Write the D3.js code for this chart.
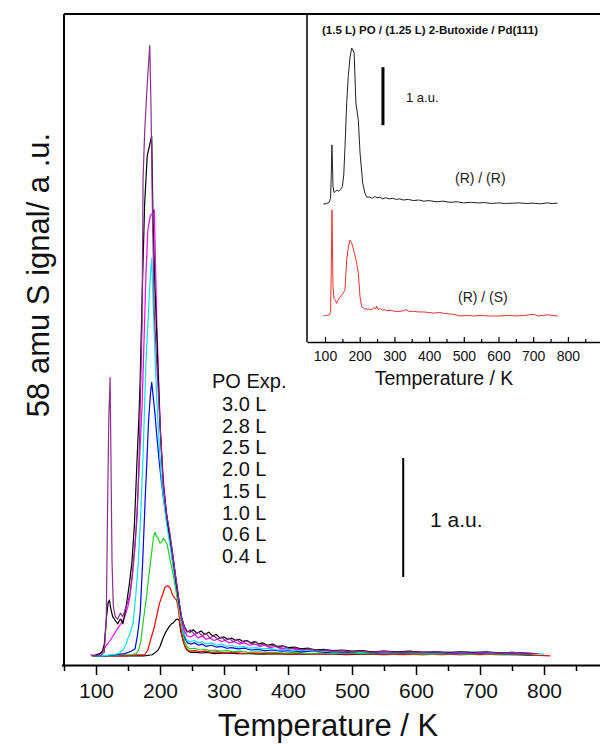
<!DOCTYPE html>
<html>
<head>
<meta charset="utf-8">
<script src="https://cdn.jsdelivr.net/npm/d3@7"></script>
<style>
  html, body { margin: 0; padding: 0; background: #fff; }
  svg { display: block; font-family: "Liberation Sans", Arial, Helvetica, sans-serif; }
</style>
</head>
<body>
<svg id="chart" width="600" height="745"></svg>
<script>
// ---------------- DATA ----------------
const exposureLabels = ["3.0 L", "2.8 L", "2.5 L", "2.0 L", "1.5 L", "1.0 L", "0.6 L", "0.4 L"];
const exposureColors = ["#8B2F8F", "#000000", "#FF00FF", "#00E5F0", "#0000FF", "#22CC22", "#FF0000", "#000000"];

const po30 = [[91,0.01],[100,0.0],[108,0.01],[113,0.03],[116,0.3],[118,1.2],[120,2.0],[122,2.34],[123.5,1.6],[125,0.8],[127,0.42],[130,0.33],[134,0.31],[138,0.36],[142,0.33],[146,0.4],[150,0.46],[153,0.52],[157,0.7],[161,0.95],[164,1.15],[167,1.6],[170,2.3],[172,2.8],[173.5,4.0],[176,4.4],[180,4.8],[184,5.13],[186,4.6],[188,3.8],[191,2.9],[195,2.45],[200,1.95],[205,1.45],[210,1.2],[215,1.05],[220,0.85],[225,0.65],[230,0.45],[234,0.32],[238,0.24],[242,0.2],[248,0.22],[254,0.18],[260,0.2],[266,0.17],[272,0.19],[278,0.15],[284,0.17],[290,0.14],[296,0.16],[302,0.13],[308,0.15],[314,0.12],[320,0.14],[326,0.11],[332,0.13],[338,0.12],[344,0.1],[350,0.12],[356,0.09],[362,0.1],[370,0.08],[378,0.09],[386,0.07],[394,0.08],[402,0.06],[412,0.065],[422,0.05],[432,0.06],[445,0.045],[458,0.05],[470,0.04],[485,0.045],[500,0.035],[515,0.04],[530,0.03],[550,0.04],[570,0.03],[590,0.035],[610,0.03],[630,0.035],[650,0.025],[670,0.03],[690,0.025],[710,0.03],[730,0.025],[750,0.03],[770,0.025],[790,0.02]];
const po28 = [[93,0.0],[100,0.01],[106,0.02],[110,0.04],[113,0.1],[116,0.3],[119,0.45],[121,0.47],[123,0.4],[126,0.33],[130,0.3],[134,0.27],[138,0.31],[140,0.3],[142,0.27],[145,0.35],[148,0.45],[152,0.6],[156,0.78],[160,1.1],[164,1.63],[167,2.0],[169,2.32],[172,3.0],[176,3.8],[180,4.2],[184,4.3],[187,4.37],[189,3.7],[192,3.1],[195,2.7],[200,1.95],[205,1.45],[210,1.2],[215,1.02],[220,0.85],[225,0.62],[230,0.44],[234,0.32],[238,0.25],[242,0.21],[247,0.2],[252,0.22],[258,0.19],[264,0.21],[270,0.18],[276,0.2],[282,0.17],[288,0.18],[294,0.15],[300,0.16],[306,0.14],[312,0.15],[318,0.13],[324,0.14],[330,0.12],[336,0.13],[342,0.11],[348,0.12],[354,0.1],[360,0.11],[368,0.09],[376,0.1],[384,0.08],[392,0.085],[400,0.07],[410,0.075],[420,0.06],[432,0.065],[444,0.05],[456,0.055],[470,0.045],[485,0.05],[500,0.04],[515,0.045],[530,0.035],[550,0.04],[570,0.035],[590,0.04],[610,0.03],[630,0.035],[650,0.03],[670,0.035],[690,0.03],[710,0.035],[730,0.025],[750,0.03],[770,0.025],[785,0.02]];
const po25 = [[95,0.0],[104,0.01],[110,0.03],[115,0.08],[122,0.13],[128,0.18],[135,0.24],[140,0.28],[145,0.33],[150,0.42],[153,0.5],[157,0.68],[161,0.92],[165,1.3],[169,1.76],[172,2.1],[174,2.46],[178,3.2],[181,3.58],[185,3.7],[188,3.72],[191,3.75],[193,3.3],[195,2.8],[198,2.3],[201,1.85],[205,1.5],[210,1.2],[215,1.02],[220,0.82],[225,0.62],[230,0.43],[234,0.3],[238,0.21],[242,0.17],[248,0.16],[254,0.18],[260,0.15],[266,0.17],[272,0.14],[278,0.15],[284,0.13],[290,0.14],[296,0.12],[302,0.13],[308,0.11],[316,0.12],[324,0.1],[332,0.11],[340,0.09],[348,0.1],[356,0.08],[364,0.09],[372,0.07],[380,0.08],[390,0.06],[400,0.07],[412,0.055],[424,0.06],[436,0.05],[450,0.05],[465,0.04],[480,0.045],[500,0.035],[520,0.04],[540,0.03],[560,0.035],[580,0.03],[600,0.035],[620,0.03],[640,0.03],[660,0.025],[680,0.03],[700,0.025],[720,0.03],[740,0.025],[760,0.025],[780,0.02]];
const po20 = [[95,0.0],[110,0.0],[125,0.01],[135,0.02],[142,0.05],[147,0.1],[150,0.15],[154,0.2],[158,0.28],[162,0.5],[166,0.78],[170,1.2],[174,1.76],[178,2.46],[182,2.9],[185,3.2],[187,3.34],[189,3.0],[192,2.55],[195,2.15],[198,1.85],[202,1.5],[206,1.3],[210,1.12],[215,0.95],[220,0.76],[225,0.58],[230,0.41],[234,0.28],[238,0.18],[242,0.13],[248,0.12],[254,0.13],[260,0.11],[266,0.12],[272,0.1],[280,0.11],[288,0.09],[296,0.1],[304,0.08],[312,0.09],[320,0.075],[330,0.08],[340,0.065],[350,0.07],[360,0.06],[372,0.065],[384,0.05],[396,0.055],[410,0.045],[425,0.05],[440,0.04],[455,0.045],[470,0.035],[490,0.04],[510,0.03],[530,0.035],[550,0.03],[570,0.035],[590,0.03],[610,0.03],[630,0.025],[650,0.03],[670,0.025],[690,0.03],[710,0.025],[730,0.025],[750,0.025],[770,0.02],[790,0.02],[800,0.015]];
const po15 = [[95,0.0],[115,0.0],[130,0.01],[145,0.02],[155,0.04],[161,0.06],[165,0.18],[169,0.36],[173,0.8],[177,1.34],[180,1.7],[182,1.96],[185,2.2],[187,2.3],[189,2.2],[192,2.04],[195,1.85],[199,1.62],[202,1.47],[205,1.34],[209,1.2],[213,1.06],[218,0.9],[223,0.72],[227,0.57],[231,0.41],[235,0.26],[239,0.15],[243,0.11],[248,0.1],[254,0.11],[260,0.09],[266,0.1],[272,0.08],[280,0.09],[288,0.075],[296,0.08],[304,0.065],[312,0.07],[322,0.06],[332,0.065],[342,0.05],[352,0.055],[364,0.045],[376,0.05],[390,0.04],[405,0.045],[420,0.035],[440,0.04],[460,0.03],[480,0.035],[500,0.03],[520,0.03],[540,0.025],[560,0.03],[580,0.025],[600,0.03],[620,0.025],[640,0.025],[660,0.02],[680,0.025],[700,0.02],[720,0.025],[740,0.02],[760,0.02],[780,0.015]];
const po10 = [[95,0.0],[120,0.0],[140,0.01],[155,0.01],[163,0.02],[166,0.04],[170,0.12],[174,0.3],[177,0.42],[179,0.5],[182,0.65],[185,0.78],[188,0.92],[190,1.0],[192,1.04],[195,1.0],[197,0.99],[200,0.95],[203,0.96],[205,0.99],[208,0.97],[211,0.94],[214,0.86],[216,0.8],[220,0.7],[223,0.61],[227,0.48],[231,0.35],[235,0.21],[239,0.11],[243,0.07],[248,0.06],[255,0.065],[262,0.05],[270,0.055],[278,0.045],[286,0.05],[295,0.04],[305,0.045],[315,0.035],[325,0.04],[338,0.03],[350,0.035],[365,0.03],[380,0.03],[395,0.025],[410,0.03],[430,0.02],[450,0.025],[470,0.02],[490,0.025],[510,0.02],[530,0.02],[560,0.02],[590,0.02],[620,0.015],[650,0.02],[680,0.015],[710,0.02],[740,0.015],[770,0.015],[785,0.01]];
const po06 = [[95,0.0],[120,0.0],[145,0.0],[165,0.01],[176,0.01],[181,0.05],[185,0.13],[190,0.22],[195,0.34],[199,0.44],[203,0.5],[206,0.55],[208,0.58],[212,0.59],[216,0.57],[219,0.52],[221,0.5],[224,0.48],[226,0.47],[229,0.38],[231,0.28],[235,0.16],[239,0.08],[243,0.05],[248,0.04],[255,0.045],[262,0.035],[270,0.04],[280,0.03],[290,0.035],[300,0.025],[315,0.03],[330,0.02],[345,0.025],[360,0.02],[380,0.02],[400,0.015],[430,0.02],[460,0.015],[490,0.02],[520,0.015],[550,0.015],[580,0.01],[610,0.015],[640,0.01],[670,0.015],[700,0.01],[730,0.015],[760,0.01],[790,0.005],[810,0.0]];
const po04 = [[95,0.0],[120,0.0],[150,0.0],[175,0.0],[188,0.01],[193,0.03],[197,0.05],[200,0.08],[204,0.14],[208,0.19],[211,0.22],[215,0.25],[218,0.27],[221,0.28],[224,0.3],[227,0.31],[230,0.3],[232,0.22],[236,0.13],[239,0.08],[242,0.05],[248,0.03],[256,0.03],[265,0.025],[275,0.03],[285,0.02],[300,0.025],[320,0.02],[340,0.02],[360,0.015],[380,0.02],[400,0.015],[430,0.015],[460,0.02],[490,0.01],[520,0.015],[550,0.01],[580,0.015],[610,0.01],[640,0.015],[670,0.01],[700,0.015],[730,0.01],[760,0.01],[785,0.005]];

const insetRR = [[95,0.0],[105,0.01],[112,0.03],[116,0.1],[118,0.5],[120,1.02],[121.5,0.7],[123,0.3],[126,0.2],[130,0.22],[135,0.24],[140,0.22],[145,0.25],[150,0.3],[154,0.5],[157.6,0.98],[162.5,1.74],[167,2.2],[172,2.53],[177,2.69],[180,2.66],[184,2.6],[189,1.74],[196,1.45],[201,0.88],[208.6,0.36],[215,0.19],[220,0.12],[228,0.12],[236,0.1],[244,0.13],[250,0.11],[258,0.12],[266,0.09],[275,0.11],[285,0.09],[295,0.1],[305,0.08],[315,0.09],[325,0.07],[340,0.08],[355,0.06],[370,0.07],[385,0.05],[400,0.06],[420,0.04],[440,0.05],[460,0.03],[480,0.04],[500,0.02],[520,0.03],[540,0.02],[560,0.025],[580,0.01],[600,0.02],[620,0.01],[640,0.015],[660,0.02],[680,0.01],[700,0.015],[720,0.005],[740,0.02],[755,0.01],[770,0.015]];
const insetRS = [[95,0.0],[105,0.01],[112,0.02],[116,0.06],[118,0.8],[120,1.83],[121.5,1.2],[123,0.5],[126,0.3],[129,0.28],[133.6,0.22],[137,0.27],[141,0.31],[145,0.33],[148,0.36],[153,0.4],[157.6,0.45],[162.5,0.97],[167.3,1.19],[172,1.31],[176.9,1.26],[184.5,1.09],[191.3,0.91],[196,0.74],[200.9,0.33],[205.7,0.16],[215,0.12],[225,0.12],[235,0.11],[242,0.15],[246,0.12],[249,0.17],[253,0.11],[258,0.13],[265,0.1],[272,0.11],[278,0.09],[290,0.1],[300,0.08],[316,0.08],[325,0.09],[335,0.11],[342,0.08],[355,0.08],[370,0.07],[385,0.07],[400,0.06],[412,0.05],[430,0.06],[450,0.04],[470,0.03],[489,0.0],[510,0.01],[530,0.0],[550,0.01],[575,0.0],[604,0.0],[625,0.01],[650,0.0],[675,0.01],[700,0.03],[715,0.0],[740,0.02],[755,0.01],[772,0.0]];

const xMajorTicks = [100, 200, 300, 400, 500, 600, 700, 800];
const xMinorTicks = [50, 150, 250, 350, 450, 550, 650, 750, 850];
const insetMinorTicks = [150, 250, 350, 450, 550, 650, 750, 850];

const mainSeries = [po30, po28, po25, po20, po15, po10, po06, po04];

// ---------------- LAYOUT ----------------
const svg = d3.select("#chart");
const M = { left: 64, right: 600, top: 14, bottom: 665 };
const x = d3.scaleLinear().domain([50, 887.5]).range([M.left, M.right]);
const y = d3.scaleLinear().domain([-0.076, 5.395]).range([M.bottom, M.top]);

// traces (draw low exposures first, big ones later)
const line = d3.line().x(d => x(d[0])).y(d => y(d[1]));
const order = [7, 6, 5, 4, 3, 2, 1, 0];
svg.append("g").selectAll("path").data(order).join("path")
  .attr("d", i => line(mainSeries[i]))
  .attr("fill", "none")
  .attr("stroke", i => exposureColors[i])
  .attr("stroke-width", 1.2)
  .attr("stroke-linejoin", "round");

// frame (left, top)
svg.append("line").attr("x1", M.left).attr("x2", M.left).attr("y1", M.top).attr("y2", M.bottom)
  .attr("stroke", "#000").attr("stroke-width", 2);
svg.append("line").attr("x1", M.left).attr("x2", M.right).attr("y1", M.top).attr("y2", M.top)
  .attr("stroke", "#000").attr("stroke-width", 2);

// bottom axis
const xAxis = d3.axisBottom(x).tickValues(xMajorTicks).tickSize(10).tickPadding(8).tickSizeOuter(0);
const gx = svg.append("g").attr("transform", `translate(0,${M.bottom})`).call(xAxis);
gx.select(".domain").attr("stroke-width", 2).attr("d", `M${M.left - 2},0.5H${M.right}`);
gx.selectAll(".tick line").attr("stroke-width", 1.5);
gx.selectAll(".tick text").attr("font-size", 21).attr("font-family", "Liberation Sans, Arial, sans-serif").attr("fill", "#111");
const gxm = svg.append("g").attr("transform", `translate(0,${M.bottom})`)
  .call(d3.axisBottom(x).tickValues(xMinorTicks).tickSize(6).tickFormat(""));
gxm.select(".domain").remove();
gxm.selectAll(".tick line").attr("stroke-width", 1.5);

svg.append("text").attr("x", 328).attr("y", 736).attr("text-anchor", "middle")
  .attr("font-size", 31).attr("fill", "#111").text("Temperature / K");
svg.append("text").attr("transform", "translate(49,275) rotate(-90)").attr("text-anchor", "middle")
  .attr("font-size", 31).attr("fill", "#111").text("58 amu S ignal/ a .u.");

// legend text
svg.append("text").attr("x", 212).attr("y", 388).attr("font-size", 20).attr("fill", "#111").text("PO Exp.");
svg.append("g").selectAll("text").data(exposureLabels).join("text")
  .attr("x", 222).attr("y", (d, i) => 411 + i * 21.7)
  .attr("font-size", 20).attr("fill", "#111").text(d => d);

// main scale bar
const barT = 580, barBase = 0.664;
svg.append("line").attr("x1", x(barT)).attr("x2", x(barT)).attr("y1", y(barBase)).attr("y2", y(barBase + 1))
  .attr("stroke", "#000").attr("stroke-width", 2);
svg.append("text").attr("x", 430).attr("y", 527).attr("font-size", 21).attr("fill", "#111").text("1 a.u.");

// ---------------- INSET ----------------
const I = { left: 307, right: 600, top: 14, bottom: 342 };
const xi = d3.scaleLinear().domain([48.1, 892.5]).range([I.left, I.right]);
const yi = d3.scaleLinear().domain([-0.448, 5.207]).range([I.bottom, I.top]);
const rrOffset = 1.93;

svg.append("rect").attr("x", I.left).attr("y", I.top + 1).attr("width", I.right - I.left).attr("height", I.bottom - I.top - 1)
  .attr("fill", "#fff");

const lineRR = d3.line().x(d => xi(d[0])).y(d => yi(d[1] + rrOffset));
const lineRS = d3.line().x(d => xi(d[0])).y(d => yi(d[1]));
svg.append("path").attr("d", lineRR(insetRR)).attr("fill", "none").attr("stroke", "#222").attr("stroke-width", 1);
svg.append("path").attr("d", lineRS(insetRS)).attr("fill", "none").attr("stroke", "#F03030").attr("stroke-width", 1);

svg.append("line").attr("x1", I.left).attr("x2", I.left).attr("y1", I.top).attr("y2", I.bottom)
  .attr("stroke", "#000").attr("stroke-width", 1.5);
const xiAxis = d3.axisBottom(xi).tickValues(xMajorTicks).tickSizeInner(-5).tickSizeOuter(0).tickPadding(9);
const gxi = svg.append("g").attr("transform", `translate(0,${I.bottom})`).call(xiAxis);
gxi.select(".domain").attr("stroke-width", 1.5);
gxi.selectAll(".tick line").attr("stroke-width", 1.2);
gxi.selectAll(".tick text").attr("font-size", 14).attr("font-family", "Liberation Sans, Arial, sans-serif").attr("fill", "#111");
const gxim = svg.append("g").attr("transform", `translate(0,${I.bottom})`)
  .call(d3.axisBottom(xi).tickValues(insetMinorTicks).tickSizeInner(-3).tickSizeOuter(0).tickFormat(""));
gxim.select(".domain").remove();
gxim.selectAll(".tick line").attr("stroke-width", 1.2);

svg.append("text").attr("x", 444).attr("y", 385).attr("text-anchor", "middle")
  .attr("font-size", 19.5).attr("fill", "#111").text("Temperature / K");
svg.append("text").attr("x", 322).attr("y", 34).attr("font-size", 11.5).attr("font-weight", "bold")
  .attr("fill", "#111").text("(1.5 L) PO / (1.25 L) 2-Butoxide / Pd(111)");

const ibarT = 267, ibarBase = 3.29;
svg.append("line").attr("x1", xi(ibarT)).attr("x2", xi(ibarT)).attr("y1", yi(ibarBase)).attr("y2", yi(ibarBase + 1))
  .attr("stroke", "#000").attr("stroke-width", 3);
svg.append("text").attr("x", 406).attr("y", 101.5).attr("font-size", 13).attr("fill", "#111").text("1 a.u.");
svg.append("text").attr("x", 455).attr("y", 183).attr("font-size", 14).attr("fill", "#222").text("(R) / (R)");
svg.append("text").attr("x", 458).attr("y", 302).attr("font-size", 14).attr("fill", "#222").text("(R) / (S)");
</script>
</body>
</html>
